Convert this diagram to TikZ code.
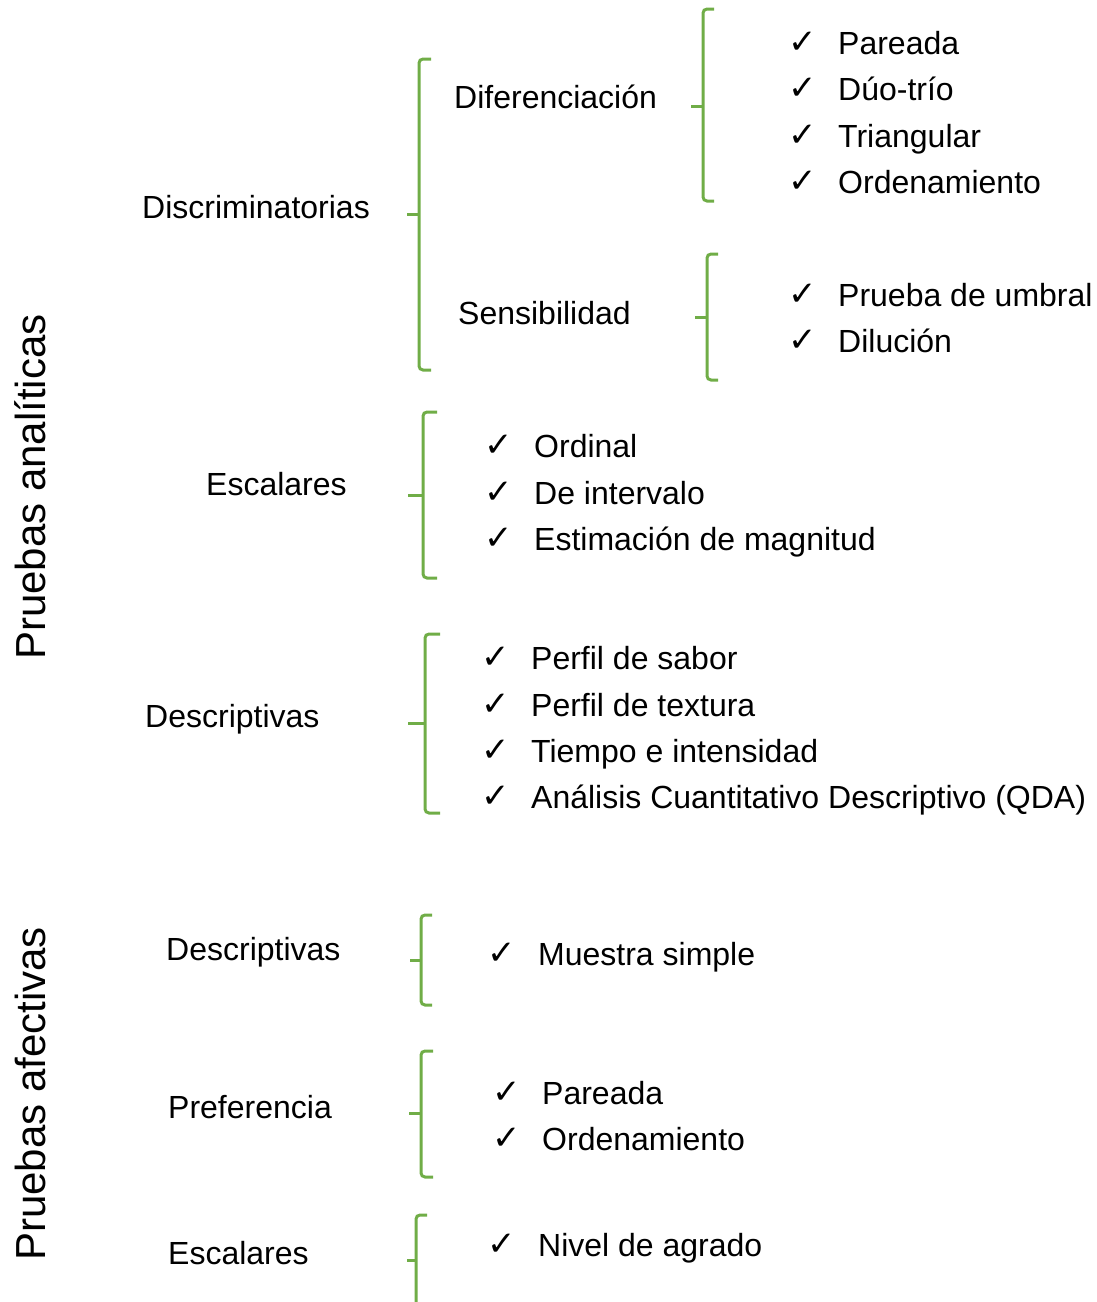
\documentclass[tikz,border=0pt]{standalone}
\usepackage{fontspec}
\setmainfont{Liberation Sans}
\newfontfamily\symfont{DejaVu Sans}
\definecolor{bracegreen}{RGB}{112,173,71}
\newcommand\gbrace[7]{% name, x, top, bottom, mid, tickx, hookx
  \coordinate (#1-top) at (#7,#3);
  \coordinate (#1-bot) at (#7,#4);
  \coordinate (#1-mid) at (#2,#5);
  \coordinate (#1-tick) at (#6,#5);
  \draw[bracestyle] (#1-top) -- (#2,#3) -- (#2,#4) -- (#1-bot);
  \draw[bracestyle] (#1-tick) -- (#1-mid);
}
\begin{document}
\begin{tikzpicture}[x=1pt,y=-1pt,
  bracestyle/.style={draw=bracegreen,line width=3pt,rounded corners=4pt},
  lbl/.style={anchor=west,inner sep=0pt,font=\fontsize{32}{38}\selectfont,text height=23pt,text depth=0pt},
  side/.style={inner sep=0pt,rotate=90,font=\fontsize{42}{50}\selectfont},
  chk/.style={inner sep=0pt,font=\symfont\fontsize{34}{40}\selectfont}]
\useasboundingbox (0,0) rectangle (1097,1302);
% side titles
\node[side] (pa) at (30,487) {Pruebas analíticas};
\node[side] (pf) at (30,1094) {Pruebas afectivas};
% category labels
\node[lbl] (disc) at (142,207) {Discriminatorias};
\node[lbl] (dif) at (454,97) {Diferenciación};
\node[lbl] (sens) at (458,313) {Sensibilidad};
\node[lbl] (esc) at (206,484) {Escalares};
\node[lbl] (desc) at (145,716) {Descriptivas};
\node[lbl] (adesc) at (166,949) {Descriptivas};
\node[lbl] (pref) at (168,1107) {Preferencia};
\node[lbl] (aesc) at (168,1253) {Escalares};
% braces
\gbrace{b1}{419}{59}{370}{214}{407}{431}
\gbrace{b2}{703}{9}{201}{106}{691}{714}
\gbrace{b3}{707}{254}{380}{317}{695}{718}
\gbrace{b4}{423}{412}{578}{495}{408}{437}
\gbrace{b5}{425}{634}{813}{723}{408}{440}
\gbrace{b6}{421}{915}{1005}{960}{410}{432}
\gbrace{b7}{421}{1051}{1177}{1113}{409}{433}
\gbrace{b8}{416}{1215}{1310}{1260}{407}{427}
% items
\foreach \n/\y/\t in {i1/43/Pareada, i2/89/Dúo-trío, i3/136/Triangular, i4/182/Ordenamiento, i5/295/Prueba de umbral, i6/341/Dilución}{
  \node[chk] (c\n) at (803,\y) {✓};
  \node[lbl] (\n) at (838,\y) {\t};
}
\foreach \n/\y/\t in {j1/446/Ordinal, j2/493/De intervalo, j3/539/Estimación de magnitud}{
  \node[chk] (c\n) at (499,\y) {✓};
  \node[lbl] (\n) at (534,\y) {\t};
}
\foreach \n/\y/\t in {k1/658/Perfil de sabor, k2/705/Perfil de textura, k3/751/Tiempo e intensidad, k4/797/Análisis Cuantitativo Descriptivo (QDA)}{
  \node[chk] (c\n) at (496,\y) {✓};
  \node[lbl] (\n) at (531,\y) {\t};
}
\node[chk] (cm1) at (502,954) {✓};
\node[lbl] (m1) at (538,954) {Muestra simple};
\node[chk] (cm2) at (507,1093) {✓};
\node[lbl] (m2) at (542,1093) {Pareada};
\node[chk] (cm3) at (507,1139) {✓};
\node[lbl] (m3) at (542,1139) {Ordenamiento};
\node[chk] (cm4) at (502,1245) {✓};
\node[lbl] (m4) at (538,1245) {Nivel de agrado};
\end{tikzpicture}
\end{document}
